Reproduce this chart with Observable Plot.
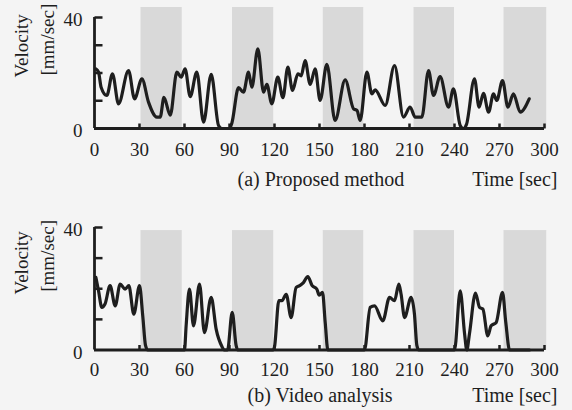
<!DOCTYPE html>
<html><head><meta charset="utf-8">
<script src="https://cdn.jsdelivr.net/npm/d3@7"></script>
<script src="https://cdn.jsdelivr.net/npm/@observablehq/plot@0.6"></script>
<style>
html,body{margin:0;padding:0;background:#f4f4f4;}
#chart{position:relative;width:572px;height:410px;overflow:hidden;background:#f4f4f4;}
#chart svg{position:absolute;left:0;}
</style></head><body><div id="chart"></div>
<script>
// ---- data ----
const xTicks = [30, 60, 90, 120, 150, 180, 210, 240, 270, 300];
const xTickLabels = [0, 30, 60, 90, 120, 150, 180, 210, 240, 270, 300];
const yTicks = [10, 20, 30, 40];
const yTickLabels = [0, 40];
const bandStart = [31, 92, 152.5, 213, 273];
const bandEnd = [58.5, 119.5, 179.5, 240, 301.5];

const timeA = [0.9,2.7,4.4,8.2,12,16,22.7,26.7,31.6,36,41.6,43.8,46.3,50.5,54.9,57.8,60.4,63.8,68.2,72.7,77.8,82.7,85,90,91.6,96,99.3,102.7,104.9,108.9,112.7,114.9,118.2,122.2,125.6,128.9,132,135.6,137.8,140.4,143.8,147.1,150.4,154.9,160.4,167.1,172.7,175,177.1,181.6,184.9,187.1,193.8,200,206,210.4,213.8,218.2,222.7,226,230.4,236,239.3,243.8,246,248,253.3,256.4,259.3,262.7,266,268.2,272,275.6,279.3,283.8,289.8];
const velA = [21.5,20.3,14.9,11.9,19.7,8.9,20.9,10.7,17.9,9.5,4.1,4.1,11.2,4.8,20.3,18.5,21.5,11.5,20.3,2.3,19.5,1.1,0,0,2,14.7,13.1,20.3,14.9,28.7,13.1,15.9,8.9,18.5,11.1,22.1,13.7,19.7,19,24.5,15.9,21.5,10.1,23.1,2.9,17.5,7.1,6.5,2.9,20.3,12.5,13.9,8.3,22.7,4.1,7.7,4.1,4.1,20.9,11.9,18.7,7.7,14.3,1.1,0,1.5,17.9,7.7,12.7,5.9,12.5,10.1,17.3,7.7,12.5,5.9,10.7];

const timeB = [0.9,2.7,4.9,7,10.4,13.8,17.1,20.4,22.9,26.2,30,32.2,34,35.5,60,61.1,63.3,66,70,73.3,77.8,81.1,85.1,86.4,88.7,91.8,94.4,95.5,119,120,122.9,125,127.8,131.1,134.4,136.7,139.3,142.2,145.1,148.2,149.8,152,153.8,155.6,180,183.8,186.7,192.2,196.7,200,202.9,204.4,206.7,211.1,213.3,214.9,216.2,240,243.8,246.7,248.2,250,254,256.7,258.9,262.2,264.4,267.8,272,274.2,276.7,290];
const velB = [23.7,19.3,13.9,15,21,14.4,21.5,19.9,21,11.7,21,11,1.5,0,0,8,19.9,7.9,21.5,5.7,17.2,6.8,1,0,0,12.3,1.5,0,0,1,16.1,16.1,18.2,10.6,20.4,21,22,24,21,19.9,17.9,18.8,9,0,0,13.9,14.4,9.5,17.2,16.1,21.5,18.2,10.6,17.2,11.7,1.5,0,0,19.3,5.4,0,5.4,18.6,13.9,13.4,4.6,7.9,9,18.8,9,0,0];

// ---- styling ----
const ink = "#1e1e1e";
const font = "'Liberation Serif', 'Times New Roman', serif";
const fs = 19;
const capFs = 20;
const tickUp = {draw(ctx){ ctx.moveTo(0,0); ctx.lineTo(0,-5); }};
const tickRight = {draw(ctx){ ctx.moveTo(0,0); ctx.lineTo(8,0); }};
const bands = bandStart.map((s, i) => ({s, e: bandEnd[i]}));

function panel({time, vel, top, height, marginTop, marginBottom, bandTop, caption, capDx, capDy, tickDy, yDy, velDy, unitDy}) {
  const data = time.map((t, i) => ({t, v: vel[i]}));
  const svg = Plot.plot({
    width: 572, height,
    marginLeft: 94, marginRight: 28, marginTop, marginBottom,
    x: {domain: [0, 300], axis: null},
    y: {domain: [0, 40], axis: null},
    style: {background: "transparent", overflow: "visible", fontFamily: font},
    marks: [
      Plot.rect(bands, {x1: "s", x2: "e", y1: 0, y2: bandTop, fill: "#d9d9d9"}),
      Plot.line(data, {x: "t", y: "v", curve: "monotone-x", stroke: ink, strokeWidth: 3.2, strokeLinejoin: "round"}),
      Plot.ruleY([0], {x1: 0, x2: 300, stroke: ink, strokeWidth: 2.8}),
      Plot.ruleX([0], {y1: 0, y2: 40, stroke: ink, strokeWidth: 2.8}),
      Plot.dot(xTicks, {x: d => d, y: 0, symbol: tickUp, fill: "none", stroke: ink, strokeWidth: 2.5}),
      Plot.dot(yTicks, {x: 0, y: d => d, symbol: tickRight, fill: "none", stroke: ink, strokeWidth: 2.5}),
      Plot.text(xTickLabels, {x: d => d, y: 0, text: d => String(d), dy: tickDy, lineAnchor: "bottom", fontSize: fs, fontFamily: font, fill: ink}),
      Plot.text(yTickLabels, {x: 0, y: d => d, text: d => String(d), dx: -12, dy: yDy, textAnchor: "end", lineAnchor: "bottom", fontSize: fs, fontFamily: font, fill: ink}),
      Plot.text(["Velocity"], {frameAnchor: "left", dx: -73, dy: velDy, rotate: -90, text: d => d, fontSize: fs, fontFamily: font, fill: ink}),
      Plot.text(["[mm/sec]"], {frameAnchor: "left", dx: -47, dy: unitDy, rotate: -90, text: d => d, fontSize: fs, fontFamily: font, fill: ink}),
      Plot.text([caption], {frameAnchor: "bottom-left", dx: capDx, dy: capDy, text: d => d, textAnchor: "start", lineAnchor: "bottom", fontSize: capFs, fontFamily: font, fill: ink}),
      Plot.text(["Time [sec]"], {frameAnchor: "bottom-right", dx: 13, dy: capDy, text: d => d, textAnchor: "end", lineAnchor: "bottom", fontSize: capFs, fontFamily: font, fill: ink})
    ]
  });
  svg.style.top = top + "px";
  return svg;
}

const root = document.getElementById("chart");
root.appendChild(panel({time: timeA, vel: velA, top: 0, height: 200, marginTop: 17, marginBottom: 72,
  bandTop: 43.6, caption: "(a) Proposed method", capDx: 143, capDy: 57, tickDy: 27, yDy: 8.5, velDy: 4.5, unitDy: 2.5}));
root.appendChild(panel({time: timeB, vel: velB, top: 200, height: 210, marginTop: 27, marginBottom: 60.5,
  bandTop: 39, caption: "(b) Video analysis", capDx: 153, capDy: 52, tickDy: 25.5, yDy: 8.5, velDy: 5.7, unitDy: 3}));
</script>
</body></html>
